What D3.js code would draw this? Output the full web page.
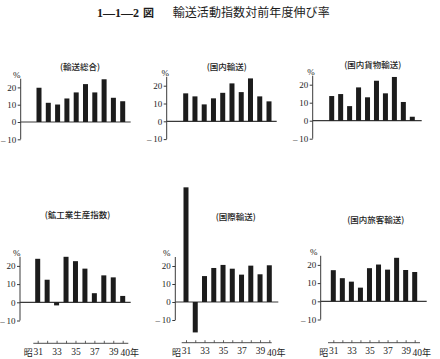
<!DOCTYPE html>
<html>
<head>
<meta charset="utf-8">
<script src="https://cdn.jsdelivr.net/npm/d3@7"></script>
<style>
  html, body { margin: 0; padding: 0; background: #ffffff; }
  svg { display: block; }
</style>
</head>
<body>
<svg id="chart" width="440" height="359"></svg>
<script>
// ---- data ----
const years = ["31", "32", "33", "34", "35", "36", "37", "38", "39", "40"];
const yearLabels = ["31", "33", "35", "37", "39"];
const lastYearLabel = "40";
const yTicks = [-10, 0, 10, 20];

const totalTransport   = [19.8, 11.1, 10.1, 13.6, 17.1, 21.9, 17.1, 24.7, 14.0, 12.0];
const domesticTransport = [15.7, 14.0, 9.5, 12.9, 16.0, 21.3, 16.4, 24.1, 14.0, 11.2];
const domesticFreight  = [13.7, 14.8, 8.1, 18.5, 13.0, 22.2, 15.2, 24.3, 10.4, 2.2];
const miningIndex      = [23.9, 12.4, -1.7, 25.0, 22.6, 18.5, 5.0, 14.8, 13.7, 3.5];
const intlTransport    = [63.7, -16.9, 14.4, 18.9, 20.6, 18.5, 15.2, 20.2, 15.4, 20.4];
const domesticPassenger = [17.1, 12.7, 10.8, 7.5, 18.2, 20.2, 17.4, 23.9, 17.2, 16.1];

const titleNum = "1—1—2";
const titleFig = "図";
const titleText = "輸送活動指数対前年度伸び率";
const eraPrefix = "昭";
const yearSuffix = "年";

// ---- layout ----
const panels = [
  {values: totalTransport,    title: "(輸送総合)",       tx: 80,    ty: 69.5,  axisX: 20.7,  x0: 39,    x1: 122.7, zero: 122,   px10: 17.3, baseEnd: 130.7, pctDx: -4,   xAxis: false},
  {values: domesticTransport, title: "(国内輸送)",       tx: 226.7, ty: 69.5,  axisX: 166.7, x0: 185.7, x1: 269,   zero: 121.3, px10: 17.8, baseEnd: 276.7, pctDx: -1.5, xAxis: false},
  {values: domesticFreight,   title: "(国内貨物輸送)",   tx: 372.7, ty: 68,    axisX: 312.7, x0: 331.7, x1: 412.3, zero: 120.7, px10: 18,   baseEnd: 421.7, pctDx: -1.7, xAxis: false},
  {values: miningIndex,       title: "(鉱工業生産指数)", tx: 77.5,  ty: 218,   axisX: 20,    x0: 37.7,  x1: 122.7, zero: 302.3, px10: 18.2, baseEnd: 130.7, pctDx: -3.3, xAxis: true, axY: 343.3, axL: 33.3,  axR: 128.3},
  {values: intlTransport,     title: "(国際輸送)",       tx: 235.8, ty: 219.7, axisX: 175.3, x0: 186,   x1: 269.3, zero: 302,   px10: 18,   baseEnd: 278.3, pctDx: -8.6, xAxis: true, axY: 342.7, axL: 181.7, axR: 271.7},
  {values: domesticPassenger, title: "(国内旅客輸送)",   tx: 375.8, ty: 223,   axisX: 320.7, x0: 333.3, x1: 414.7, zero: 301.3, px10: 18.2, baseEnd: 426.7, pctDx: -7,   xAxis: true, axY: 342.7, axL: 328,   axR: 420}
];

const ink = "#1c1c1c";
const lineInk = "#3a3a3a";
const cjk = "'Noto Sans CJK JP', sans-serif";
const serif = "'Liberation Serif', 'DejaVu Serif', serif";

const svg = d3.select("#chart");

// ---- main title ----
const title = svg.append("text")
  .attr("x", 97).attr("y", 17)
  .attr("fill", ink);
title.append("tspan")
  .attr("font-family", serif).attr("font-weight", "bold").attr("font-size", 12)
  .text(titleNum);
title.append("tspan")
  .attr("dx", 4)
  .attr("font-family", cjk).attr("font-weight", "bold").attr("font-size", 11)
  .text(titleFig);
svg.append("text")
  .attr("x", 172.7).attr("y", 17)
  .attr("font-family", cjk).attr("font-size", 12)
  .attr("fill", ink)
  .attr("textLength", 157).attr("lengthAdjust", "spacing")
  .text(titleText);

// ---- panels ----
panels.forEach(p => {
  const g = svg.append("g");
  const x = d3.scalePoint().domain(years).range([p.x0, p.x1]);
  const y = d3.scaleLinear().domain([0, 10]).range([p.zero, p.zero - p.px10]);
  const barW = 5;

  // panel title
  g.append("text")
    .attr("x", p.tx).attr("y", p.ty)
    .attr("text-anchor", "middle")
    .attr("font-family", cjk).attr("font-size", 8.5)
    .attr("font-weight", 500)
    .attr("fill", ink)
    .text(p.title);

  // y axis
  const yAxis = d3.axisLeft(y)
    .tickValues(yTicks)
    .tickSize(3)
    .tickPadding(1.5)
    .tickFormat(d => d < 0 ? "–\u2009" + Math.abs(d) : String(d));
  const ya = g.append("g")
    .attr("transform", `translate(${p.axisX},0)`)
    .call(yAxis);
  ya.select(".domain").remove();
  ya.selectAll(".tick line").attr("stroke", lineInk).attr("stroke-width", 1);
  ya.selectAll(".tick text")
    .attr("font-family", serif).attr("font-size", 9)
    .attr("fill", ink);

  g.append("line")
    .attr("x1", p.axisX).attr("x2", p.axisX)
    .attr("y1", y(-10)).attr("y2", y(25))
    .attr("stroke", lineInk).attr("stroke-width", 1);

  g.append("text")
    .attr("x", p.axisX + p.pctDx).attr("y", y(25) - 1)
    .attr("text-anchor", "middle")
    .attr("font-family", serif).attr("font-size", 9)
    .attr("fill", ink)
    .text("%");

  // zero baseline
  g.append("line")
    .attr("x1", p.axisX).attr("x2", p.baseEnd)
    .attr("y1", y(0)).attr("y2", y(0))
    .attr("stroke", lineInk).attr("stroke-width", 1.2);

  // bars
  g.selectAll("rect.bar")
    .data(years.map((yr, i) => ({yr, v: p.values[i]})))
    .join("rect")
    .attr("class", "bar")
    .attr("x", d => x(d.yr) - barW / 2)
    .attr("width", barW)
    .attr("y", d => Math.min(y(d.v), y(0)))
    .attr("height", d => Math.abs(y(d.v) - y(0)))
    .attr("fill", ink);

  // bottom year axis
  if (p.xAxis) {
    const xAxis = d3.axisBottom(x)
      .tickSizeInner(-2.5)
      .tickSizeOuter(0)
      .tickPadding(5)
      .tickFormat(d => yearLabels.includes(d) ? d : "");
    const xa = g.append("g")
      .attr("transform", `translate(0,${p.axY})`)
      .call(xAxis);
    xa.select(".domain").remove();
    xa.selectAll(".tick line").attr("stroke", lineInk).attr("stroke-width", 0.8);
    xa.selectAll(".tick text")
      .attr("font-family", serif).attr("font-size", 9.5)
      .attr("fill", ink);
    g.append("line")
      .attr("x1", p.axL).attr("x2", p.axR)
      .attr("y1", p.axY).attr("y2", p.axY)
      .attr("stroke", lineInk).attr("stroke-width", 0.9);
    g.append("text")
      .attr("x", x(years[0]) - 5).attr("y", p.axY + 13)
      .attr("text-anchor", "end")
      .attr("font-family", cjk).attr("font-size", 9)
      .attr("fill", ink)
      .text(eraPrefix);
    const last = g.append("text")
      .attr("x", x(lastYearLabel) - 2.2).attr("y", p.axY + 13)
      .attr("text-anchor", "start")
      .attr("fill", ink);
    last.append("tspan")
      .attr("font-family", serif).attr("font-size", 9.5)
      .text(lastYearLabel);
    last.append("tspan")
      .attr("font-family", cjk).attr("font-size", 9)
      .text(yearSuffix);
  }
});
</script>
</body>
</html>
